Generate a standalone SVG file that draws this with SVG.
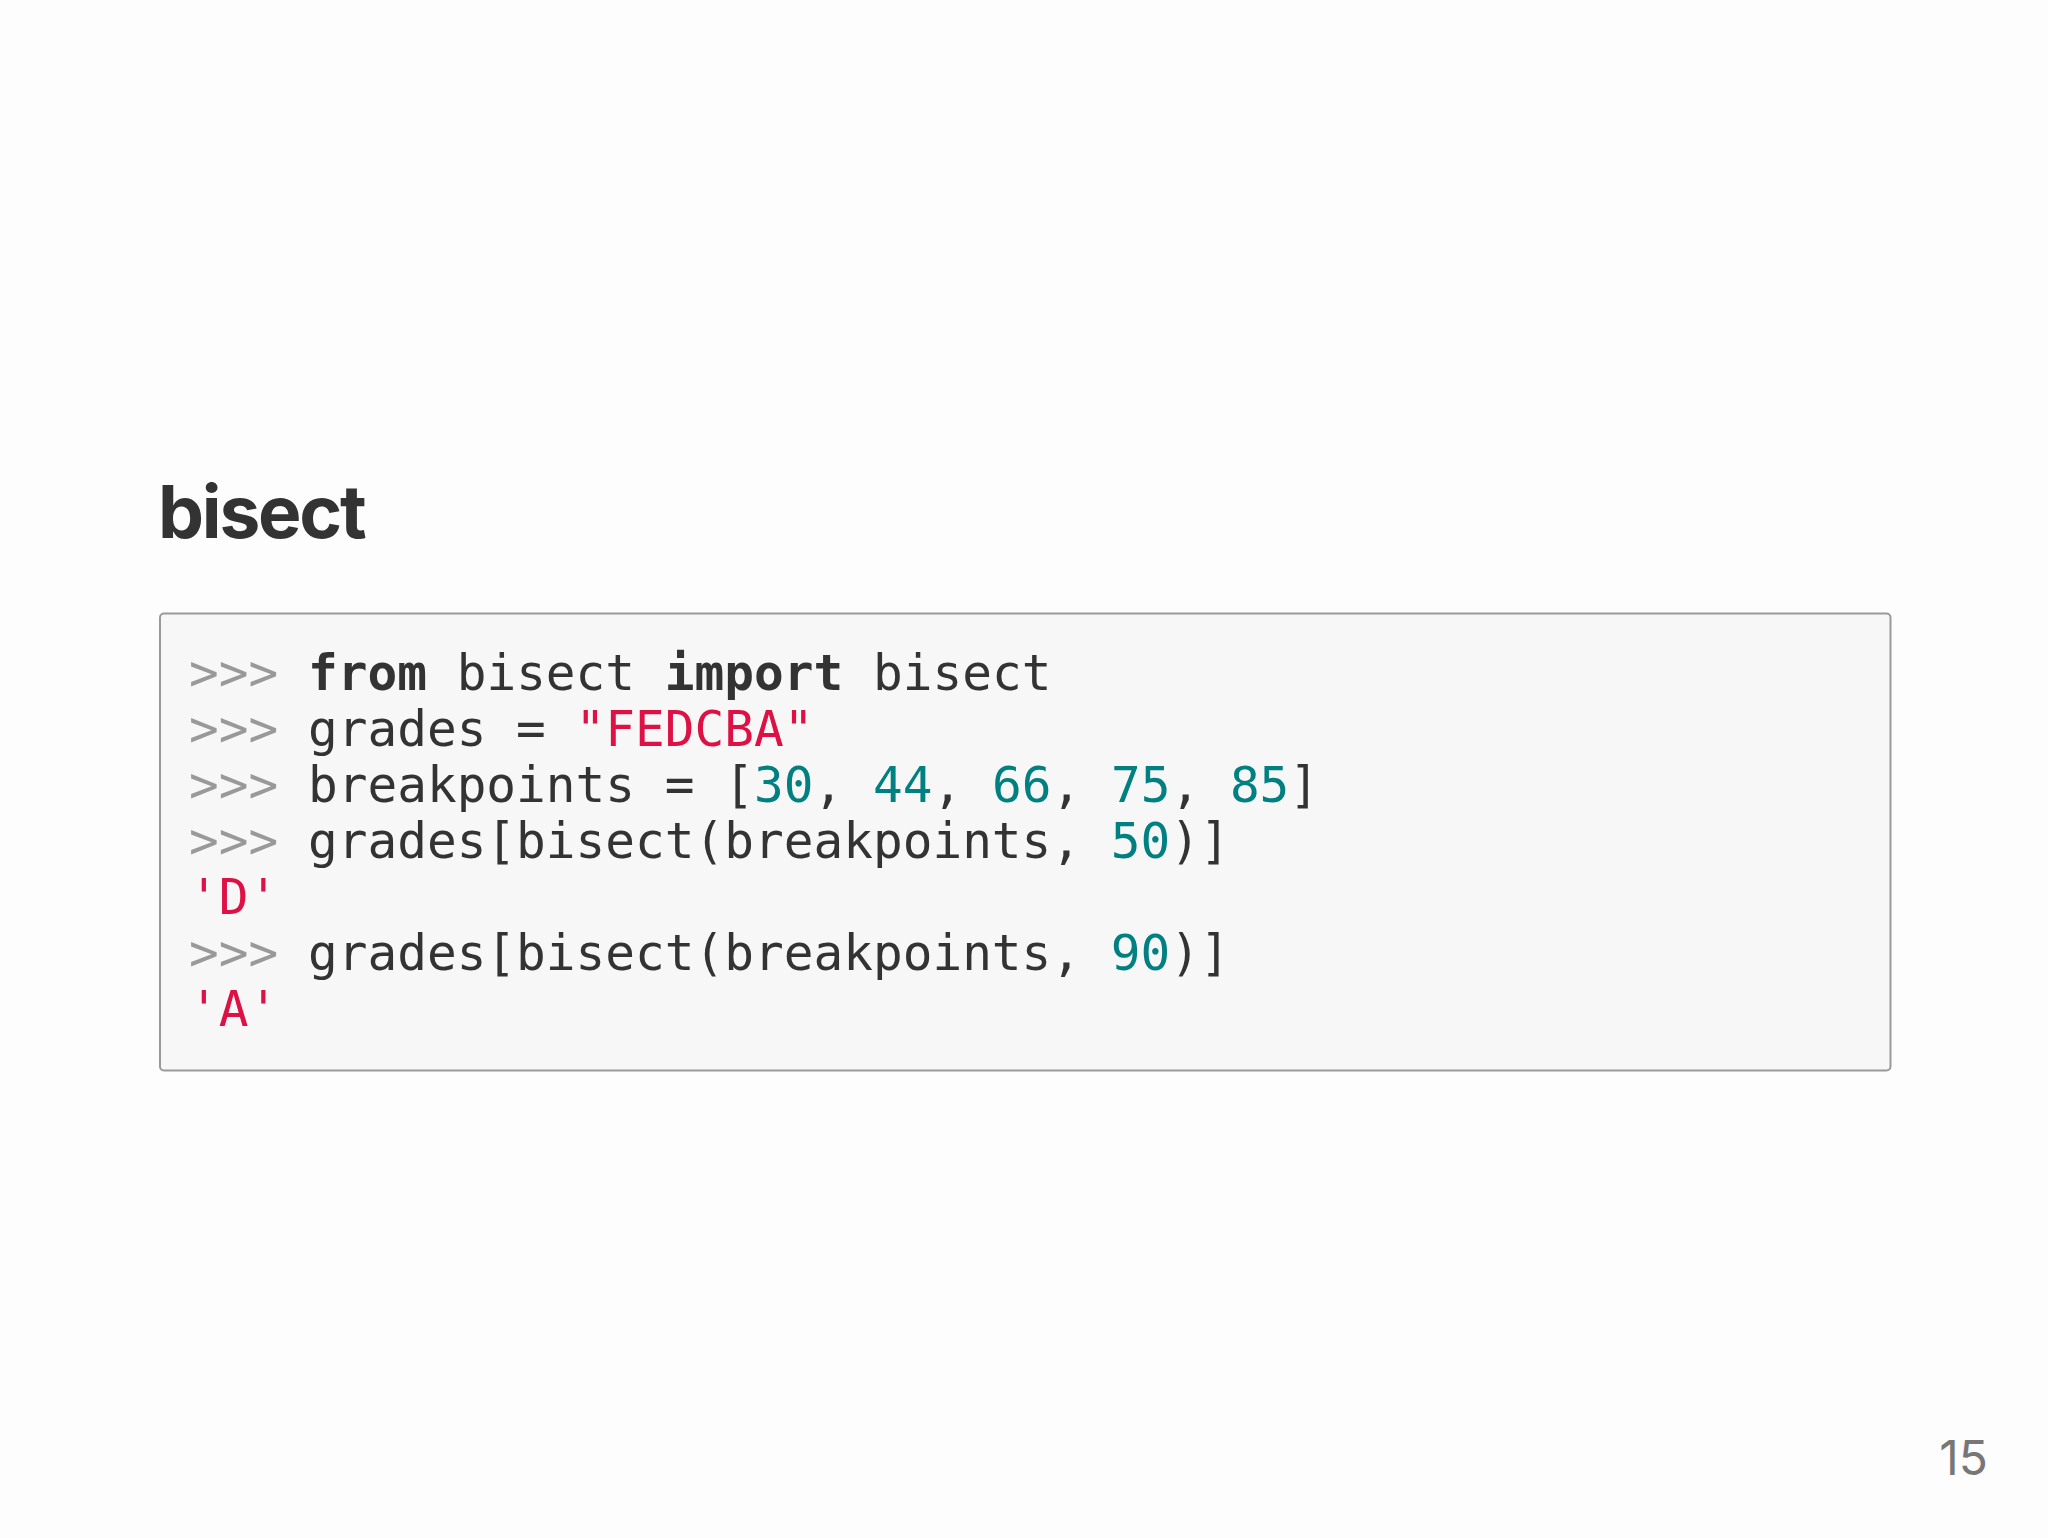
<svg xmlns="http://www.w3.org/2000/svg" width="2048" height="1538" viewBox="0 0 2048 1538">
<style>
.title{font-family:Inter,"Liberation Sans",sans-serif;font-weight:700;font-size:73px;fill:#333;letter-spacing:-2.2px}
.code{font-family:"DejaVu Sans Mono","Liberation Mono",monospace;font-size:49.4px;fill:#333;white-space:pre}
.gp{fill:#999}
.kw{font-weight:700;fill:#333}
.s{fill:#dd1144}
.m{fill:#008080}
.page{font-family:Inter,"Liberation Sans",sans-serif;font-size:48px;fill:#777}
</style>
<rect width="2048" height="1538" fill="#fdfdfd"/>
<g id="title"><text class="title" x="158" y="538">bisect</text></g>
<g id="codebox">
<rect x="160" y="613.5" width="1730.5" height="457" rx="4" fill="#f7f7f7" stroke="#9a9a9a" stroke-width="2"/>
<text class="code" x="189" y="690" xml:space="preserve"><tspan class="gp">&gt;&gt;&gt;</tspan> <tspan class="kw">from</tspan> bisect <tspan class="kw">import</tspan> bisect</text>
<text class="code" x="189" y="746" xml:space="preserve"><tspan class="gp">&gt;&gt;&gt;</tspan> grades = <tspan class="s">"FEDCBA"</tspan></text>
<text class="code" x="189" y="802" xml:space="preserve"><tspan class="gp">&gt;&gt;&gt;</tspan> breakpoints = [<tspan class="m">30</tspan>, <tspan class="m">44</tspan>, <tspan class="m">66</tspan>, <tspan class="m">75</tspan>, <tspan class="m">85</tspan>]</text>
<text class="code" x="189" y="858" xml:space="preserve"><tspan class="gp">&gt;&gt;&gt;</tspan> grades[bisect(breakpoints, <tspan class="m">50</tspan>)]</text>
<text class="code s" x="189" y="914">'D'</text>
<text class="code" x="189" y="970" xml:space="preserve"><tspan class="gp">&gt;&gt;&gt;</tspan> grades[bisect(breakpoints, <tspan class="m">90</tspan>)]</text>
<text class="code s" x="189" y="1026">'A'</text>
</g>
<g id="pagenum"><text class="page" x="1988" y="1475" text-anchor="end">15</text></g>
</svg>
